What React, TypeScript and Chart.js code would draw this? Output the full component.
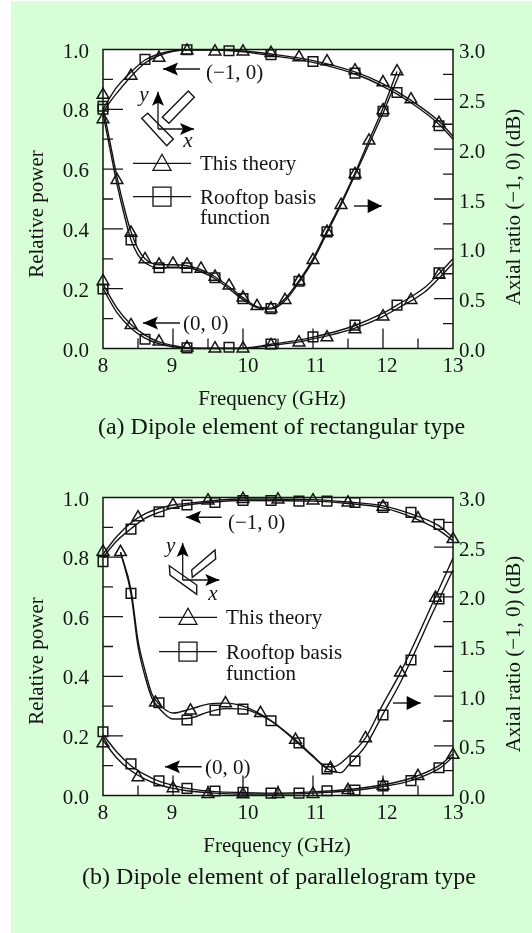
import React, { useEffect, useRef } from "react";
import { Chart, registerables } from "chart.js";

Chart.register(...registerables);

const FONT = '"Liberation Serif", "Times New Roman", serif';
const GREEN = "#d7fed7";
const INK = "#141414";

type P = [number, number];
const pts = (a: P[]) => a.map(([x, y]) => ({ x, y }));

// ---------- Panel (a): rectangular dipole ----------
const aMainLineUpper: P[] = [[8,.80],[8.1,.84],[8.2,.875],[8.4,.925],[8.6,.965],[8.8,.985],[9.2,.999],[9.6,.999],[10,.995],[10.4,.985],[11,.963],[11.6,.925],[12,.885],[12.4,.83],[12.8,.76],[13,.71]];
const aMainLineLower: P[] = [[8,.79],[8.1,.825],[8.2,.855],[8.4,.91],[8.6,.955],[8.8,.98],[9.2,.998],[9.6,.998],[10,.992],[10.4,.98],[11,.957],[11.6,.918],[12,.877],[12.4,.822],[12.8,.75],[13,.70]];
const aMainTriangles: P[] = [[8,.848],[8.4,.912],[8.8,.972],[9.2,.996],[9.6,.993],[10,.993],[10.4,.988],[10.8,.974],[11.2,.96],[11.6,.93],[12,.89],[12.4,.833],[12.8,.754]];
const aMainSquares: P[] = [[8,.81],[8.6,.967],[9.2,.999],[9.8,.996],[10.4,.983],[11,.96],[11.6,.921],[12.2,.856],[12.8,.745]];

const aRatioLineUpper: P[] = [[8,2.42],[8.1,2.07],[8.2,1.72],[8.3,1.42],[8.4,1.17],[8.5,1.0],[8.6,.9],[8.8,.84],[9,.84],[9.2,.83],[9.4,.79],[9.6,.72],[9.8,.62],[10,.51],[10.2,.42],[10.4,.405],[10.6,.5],[10.8,.68],[11,.9],[11.2,1.18],[11.4,1.46],[11.6,1.76],[11.8,2.09],[12,2.41],[12.2,2.78]];
const aRatioLineLower: P[] = [[8,2.36],[8.1,2.0],[8.2,1.65],[8.3,1.35],[8.4,1.09],[8.5,.94],[8.6,.86],[8.8,.81],[9,.81],[9.2,.81],[9.4,.77],[9.6,.7],[9.8,.6],[10,.49],[10.2,.41],[10.4,.395],[10.6,.48],[10.8,.665],[11,.88],[11.2,1.16],[11.4,1.44],[11.6,1.74],[11.8,2.05],[12,2.36],[12.1,2.53],[12.25,2.78]];
const aRatioTriangles: P[] = [[8,2.3],[8.2,1.69],[8.4,1.16],[8.6,.895],[8.8,.84],[9,.85],[9.2,.84],[9.4,.8],[9.6,.72],[9.8,.63],[10,.51],[10.2,.425],[10.4,.4],[10.6,.486],[10.8,.676],[11,.887],[11.2,1.17],[11.4,1.44],[11.6,1.75],[11.8,2.085],[12,2.39],[12.2,2.78]];
const aRatioSquares: P[] = [[8,2.4],[8.4,1.09],[8.8,.81],[9.2,.81],[9.6,.71],[10,.5],[10.4,.4],[10.8,.675],[11.2,1.17],[11.6,1.75],[12,2.38]];

const aZeroLineUpper: P[] = [[8,.215],[8.2,.135],[8.4,.08],[8.6,.045],[8.8,.022],[9,.01],[9.2,.003],[9.6,.001],[10,.002],[10.4,.014],[10.8,.028],[11,.038],[11.4,.062],[11.6,.077],[12,.118],[12.2,.145],[12.6,.205],[12.8,.25],[13,.30]];
const aZeroLineLower: P[] = [[8,.2],[8.2,.12],[8.4,.068],[8.6,.035],[8.8,.016],[9,.006],[9.2,.001],[9.6,0],[10,0],[10.4,.01],[10.8,.022],[11,.032],[11.4,.054],[11.6,.068],[12,.107],[12.2,.133],[12.6,.19],[12.8,.235],[13,.285]];
const aZeroTriangles: P[] = [[8,.225],[8.4,.078],[8.8,.023],[9.2,.003],[9.6,0],[10,0],[10.4,.011],[10.8,.02],[11.2,.037],[11.6,.064],[12,.107],[12.4,.162],[12.8,.246]];
const aZeroSquares: P[] = [[8,.199],[8.6,.031],[9.2,.002],[9.8,.004],[10.4,.015],[11,.039],[11.6,.078],[12.2,.145],[12.8,.253]];

// ---------- Panel (b): parallelogram dipole ----------
const bMainLineUpper: P[] = [[8,.81],[8.2,.87],[8.4,.915],[8.6,.945],[8.8,.963],[9,.975],[9.2,.98],[9.6,.99],[10,.995],[11,.993],[11.5,.985],[12,.972],[12.4,.945],[12.8,.905],[13,.865]];
const bMainLineLower: P[] = [[8,.8],[8.2,.855],[8.4,.895],[8.6,.93],[8.8,.95],[9,.965],[9.2,.975],[9.6,.985],[10,.99],[11,.988],[11.5,.98],[12,.965],[12.4,.935],[12.8,.89],[13,.855]];
const bMainTriangles: P[] = [[8,.818],[8.5,.933],[9,.975],[9.5,.99],[10,.995],[10.5,.993],[11,.99],[11.5,.983],[12,.969],[12.5,.93],[13,.86]];
const bMainSquares: P[] = [[8,.785],[8.4,.894],[8.8,.952],[9.2,.975],[9.6,.983],[10,.99],[10.4,.99],[10.8,.988],[11.2,.988],[11.6,.983],[12,.967],[12.4,.95],[12.8,.91]];

const bRatioLineUpper: P[] = [[8.25,2.45],[8.4,2.07],[8.5,1.56],[8.6,1.26],[8.7,1.02],[8.8,.92],[9,.83],[9.25,.87],[9.5,.92],[9.75,.93],[10,.9],[10.25,.82],[10.4,.755],[10.75,.56],[11,.4],[11.2,.29],[11.3,.29],[11.5,.39],[11.75,.58],[12,.92],[12.25,1.24],[12.75,2.0],[13,2.39]];
const bRatioLineLower: P[] = [[8.25,2.45],[8.4,2.03],[8.5,1.5],[8.6,1.2],[8.7,.98],[8.8,.88],[9,.77],[9.25,.78],[9.5,.84],[9.75,.875],[10,.87],[10.25,.81],[10.4,.75],[10.75,.55],[11,.39],[11.2,.27],[11.4,.23],[11.5,.3],[11.75,.5],[12,.82],[12.25,1.14],[12.75,1.9],[13,2.27]];
const bRatioTriangles: P[] = [[8.25,2.45],[8.75,.934],[9.25,.854],[9.75,.928],[10.25,.83],[10.75,.56],[11.25,.274],[11.75,.576],[12.25,1.236],[12.75,1.99]];
const bRatioSquares: P[] = [[8.4,2.035],[8.8,.934],[9.2,.76],[9.6,.86],[10,.87],[10.4,.753],[10.8,.53],[11.2,.267],[11.6,.347],[12,.81],[12.4,1.364],[12.8,1.98]];

const bZeroLineUpper: P[] = [[8,.205],[8.2,.145],[8.4,.1],[8.6,.07],[8.8,.048],[9,.034],[9.2,.024],[9.6,.013],[10,.01],[10.5,.008],[11,.012],[11.5,.02],[12,.036],[12.4,.058],[12.8,.1],[13,.14]];
const bZeroLineLower: P[] = [[8,.185],[8.2,.125],[8.4,.083],[8.6,.055],[8.8,.036],[9,.024],[9.2,.016],[9.6,.008],[10,.005],[10.5,.005],[11,.008],[11.5,.015],[12,.03],[12.4,.05],[12.8,.09],[13,.13]];
const bZeroTriangles: P[] = [[8,.175],[8.5,.061],[9,.024],[9.5,.005],[10,.004],[10.5,.005],[11,.005],[11.5,.018],[12,.032],[12.5,.065],[13,.136]];
const bZeroSquares: P[] = [[8,.214],[8.4,.106],[8.8,.049],[9.2,.024],[9.6,.015],[10,.011],[10.4,.008],[10.8,.008],[11.2,.016],[11.6,.018],[12,.032],[12.4,.05],[12.8,.093]];

const xTickValues = [8, 9, 10, 11, 12, 13];
const xTickNudge = [0, -1, 5, 3, 4, 0];
const xMinor = [8.5, 9.5, 10.5, 11.5, 12.5];
const xMajor = [9, 10, 11, 12];
const leftMinor = [.1, .3, .5, .7, .9];
const leftMajor = [.2, .4, .6, .8];
const rightMinor = [.25, .75, 1.25, 1.75, 2.25, 2.75];
const rightMajor = [.5, 1, 1.5, 2, 2.5];

const xTitle = "Frequency (GHz)";
const leftTitle = "Relative power";
const rightTitle = "Axial ratio (\u22121, 0) (dB)";
const legendTheory = "This theory";
const legendRooftop = ["Rooftop basis", "function"];
const labelMain = "(\u22121, 0)";
const labelZero = "(0, 0)";

const lineDs = (data: P[], yAxisID: string) => ({
  type: "line" as const, data: pts(data), yAxisID, borderColor: INK, borderWidth: 1.4,
  pointRadius: 0, tension: 0.4, cubicInterpolationMode: "monotone" as const, fill: false, clip: 2,
});
const markDs = (data: P[], yAxisID: string, style: "triangle" | "rect") => ({
  type: "line" as const, data: pts(data), yAxisID, showLine: false, pointStyle: style,
  pointRadius: 6.8, pointBorderColor: INK, pointBorderWidth: 1.5,
  pointBackgroundColor: "rgba(0,0,0,0)", clip: false as const,
});

type Layout = {
  top: number; bottom: number; height: number; leftTitleY: number; rightTitleY: number;
  freqX: number; freqY: number; captionX: number; captionY: number; caption: string;
  mainLabel: [number, number]; mainArrow: [number, number, number];
  zeroLabel: [number, number]; zeroArrow: [number, number, number];
  ratioArrow: [number, number, number];
  origin: [number, number]; yTip: number; xTip: number; yText: [number, number]; xText: [number, number];
  shapes: P[][];
  legendLine: [number, number]; legendText: number; rowTheory: number; rowRoof: number; rowRoof2: number;
};

function arrow(c: CanvasRenderingContext2D, x1: number, x2: number, y: number, headAt: "left" | "right") {
  c.strokeStyle = INK; c.fillStyle = "#000"; c.lineWidth = 1.4;
  c.beginPath(); c.moveTo(x1, y); c.lineTo(x2, y); c.stroke();
  c.beginPath();
  if (headAt === "left") { c.moveTo(x1, y); c.lineTo(x1 + 15, y - 6.5); c.lineTo(x1 + 12, y); c.lineTo(x1 + 15, y + 6.5); }
  else { c.moveTo(x2, y); c.lineTo(x2 - 14, y - 7); c.lineTo(x2 - 14, y + 7); }
  c.closePath(); c.fill();
}

const makePlugin = (L: Layout) => ({
  id: "figure",
  beforeDatasetsDraw(chart: any) {
    const c: CanvasRenderingContext2D = chart.ctx;
    const { left, right, top, bottom } = chart.chartArea;
    c.save();
    c.fillStyle = "#fff"; c.fillRect(left, top, right - left, bottom - top);
    c.strokeStyle = INK; c.lineWidth = 1.3;
    const { x, y, y1 } = chart.scales;
    c.beginPath();
    xMajor.forEach((v) => { const p = x.getPixelForValue(v); c.moveTo(p, bottom); c.lineTo(p, bottom - 20); });
    xMinor.forEach((v) => { const p = x.getPixelForValue(v); c.moveTo(p, bottom); c.lineTo(p, bottom - 10); });
    leftMajor.forEach((v) => { const p = y.getPixelForValue(v); c.moveTo(left, p); c.lineTo(left + 20, p); });
    leftMinor.forEach((v) => { const p = y.getPixelForValue(v); c.moveTo(left, p); c.lineTo(left + 10, p); });
    rightMajor.forEach((v) => { const p = y1.getPixelForValue(v); c.moveTo(right, p); c.lineTo(right - 19, p); });
    rightMinor.forEach((v) => { const p = y1.getPixelForValue(v); c.moveTo(right, p); c.lineTo(right - 10, p); });
    c.stroke();
    c.restore();
  },
  afterDraw(chart: any) {
    const c: CanvasRenderingContext2D = chart.ctx;
    const { left, right, top, bottom } = chart.chartArea;
    c.save();
    c.strokeStyle = INK; c.lineWidth = 1.5;
    c.strokeRect(left, top, right - left, bottom - top);

    // x tick labels
    c.fillStyle = INK; c.textBaseline = "middle"; c.textAlign = "center";
    c.font = `21px ${FONT}`;
    xTickValues.forEach((v, i) => c.fillText(String(v), chart.scales.x.getPixelForValue(v) + xTickNudge[i], bottom + 18));

    // titles
    c.fillText(xTitle, L.freqX, L.freqY);
    c.save(); c.translate(37, L.leftTitleY); c.rotate(-Math.PI / 2); c.fillText(leftTitle, 0, 0); c.restore();
    c.save(); c.translate(514, L.rightTitleY); c.rotate(-Math.PI / 2); c.fillText(rightTitle, 0, 0); c.restore();
    c.font = `24px ${FONT}`;
    c.fillText(L.caption, L.captionX, L.captionY);

    // annotations
    c.font = `21px ${FONT}`; c.textAlign = "left";
    c.fillText(labelMain, L.mainLabel[0], L.mainLabel[1]);
    c.fillText(labelZero, L.zeroLabel[0], L.zeroLabel[1]);
    arrow(c, L.mainArrow[0], L.mainArrow[1], L.mainArrow[2], "left");
    arrow(c, L.zeroArrow[0], L.zeroArrow[1], L.zeroArrow[2], "left");
    arrow(c, L.ratioArrow[0], L.ratioArrow[1], L.ratioArrow[2], "right");

    // element sketch
    const [ox, oy] = L.origin;
    c.strokeStyle = INK; c.fillStyle = "#000"; c.lineWidth = 1.3;
    c.beginPath(); c.moveTo(ox, oy); c.lineTo(ox, L.yTip); c.moveTo(ox, oy); c.lineTo(L.xTip, oy); c.stroke();
    c.beginPath(); c.moveTo(ox, L.yTip); c.lineTo(ox - 6, L.yTip + 14); c.lineTo(ox, L.yTip + 11); c.lineTo(ox + 6, L.yTip + 14); c.closePath(); c.fill();
    c.beginPath(); c.moveTo(L.xTip, oy); c.lineTo(L.xTip - 14, oy - 6); c.lineTo(L.xTip - 11, oy); c.lineTo(L.xTip - 14, oy + 6); c.closePath(); c.fill();
    c.lineWidth = 1.4;
    L.shapes.forEach((s) => {
      c.beginPath(); s.forEach(([a, b], i) => (i ? c.lineTo(a, b) : c.moveTo(a, b))); c.closePath(); c.stroke();
    });
    c.font = `italic 21px ${FONT}`; c.textAlign = "center"; c.fillStyle = INK;
    c.fillText("y", L.yText[0], L.yText[1]);
    c.fillText("x", L.xText[0], L.xText[1]);

    // legend
    const [lx1, lx2] = L.legendLine; const mid = (lx1 + lx2) / 2;
    c.strokeStyle = INK; c.lineWidth = 1.3;
    c.beginPath();
    c.moveTo(lx1, L.rowTheory); c.lineTo(lx2, L.rowTheory);
    c.moveTo(lx1, L.rowRoof); c.lineTo(lx2, L.rowRoof);
    c.moveTo(mid, L.rowTheory - 9); c.lineTo(mid - 9, L.rowTheory + 7); c.lineTo(mid + 9, L.rowTheory + 7); c.closePath();
    c.rect(mid - 9, L.rowRoof - 9.5, 18, 19);
    c.stroke();
    c.font = `21px ${FONT}`; c.textAlign = "left"; c.fillStyle = INK;
    c.fillText(legendTheory, L.legendText, L.rowTheory + 1);
    c.fillText(legendRooftop[0], L.legendText, L.rowRoof + 2);
    c.fillText(legendRooftop[1], L.legendText, L.rowRoof2 + 0.5);
    c.restore();
  },
});

function build(canvas: HTMLCanvasElement, L: Layout, sets: P[][]) {
  const [mu, ml, mt, ms, ru, rl, rt, rs, zu, zl, zt, zs] = sets;
  return new Chart(canvas, {
    type: "line",
    data: {
      datasets: [
        lineDs(mu, "y"), lineDs(ml, "y"), lineDs(zu, "y"), lineDs(zl, "y"), lineDs(ru, "y1"), lineDs(rl, "y1"),
        markDs(mt, "y", "triangle"), markDs(ms, "y", "rect"), markDs(zt, "y", "triangle"), markDs(zs, "y", "rect"),
        markDs(rt, "y1", "triangle"), markDs(rs, "y1", "rect"),
      ] as any,
    },
    options: {
      animation: false, responsive: false, events: [],
      layout: { padding: { top: L.top, bottom: 0, left: 0, right: 0 } },
      plugins: { legend: { display: false }, tooltip: { enabled: false } },
      scales: {
        x: {
          type: "linear", min: 8, max: 13,
          grid: { display: false }, border: { display: false },
          ticks: { display: false },
          afterFit: (s: any) => { s.height = L.height - L.bottom; },
        },
        y: {
          type: "linear", position: "left", min: 0, max: 1,
          grid: { display: false, drawTicks: false }, border: { display: false },
          ticks: { stepSize: 0.2, padding: 14, labelOffset: 2.5, color: INK, font: { family: FONT, size: 21 }, callback: (v: any) => Number(v).toFixed(1) },
          afterFit: (s: any) => { s.width = 103; },
        },
        y1: {
          type: "linear", position: "right", min: 0, max: 3,
          grid: { display: false, drawTicks: false }, border: { display: false },
          ticks: { stepSize: 0.5, padding: 6, labelOffset: 3, color: INK, font: { family: FONT, size: 21 }, callback: (v: any) => Number(v).toFixed(1) },
          afterFit: (s: any) => { s.width = 79; },
        },
      },
    } as any,
    plugins: [makePlugin(L)],
  });
}

const layoutA: Layout = {
  top: 49.5, bottom: 348.5, height: 466, leftTitleY: 214, rightTitleY: 207,
  freqX: 272, freqY: 399, captionX: 281.5, captionY: 428, caption: "(a) Dipole element of rectangular type",
  mainLabel: [206, 73], mainArrow: [163, 200, 69], zeroLabel: [183, 324], zeroArrow: [143, 180, 323], ratioArrow: [354, 381.7, 206],
  origin: [158, 129], yTip: 91.7, xTip: 194, yText: [144, 95], xText: [188, 141],
  shapes: [
    [[188.3,91],[194.3,97.3],[169,123.3],[162.3,117.3]],
    [[147.7,113.3],[141.7,118.3],[166.7,145.7],[173.3,139]],
  ],
  legendLine: [133, 191], legendText: 200, rowTheory: 163.3, rowRoof: 196.7, rowRoof2: 218,
};

const O = 466; // panel (b) canvas offset
const layoutB: Layout = {
  top: 497.5 - O, bottom: 795.5 - O, height: 467, leftTitleY: 661 - O, rightTitleY: 654 - O,
  freqX: 277, freqY: 846 - O, captionX: 279, captionY: 878 - O, caption: "(b) Dipole element of parallelogram type",
  mainLabel: [228, 523 - O], mainArrow: [186, 221.7, 517.3 - O], zeroLabel: [205, 768 - O], zeroArrow: [165, 201.7, 766.7 - O], ratioArrow: [393, 420.7, 703 - O],
  origin: [182.7, 580 - O], yTip: 543 - O, xTip: 219.3, yText: [170.7, 546 - O], xText: [213, 594 - O],
  shapes: [
    [[191.7,570 - O],[215,550 - O],[215.7,559 - O],[192.3,577.3 - O]],
    [[169.3,565.7 - O],[196.7,585 - O],[196.7,594.3 - O],[170,575 - O]],
  ],
  legendLine: [159, 217], legendText: 226, rowTheory: 617.3 - O, rowRoof: 651.7 - O, rowRoof2: 674 - O,
};

export default function App() {
  const refA = useRef<HTMLCanvasElement>(null);
  const refB = useRef<HTMLCanvasElement>(null);
  useEffect(() => {
    document.body.style.margin = "0";
    document.body.style.background = "#fff";
    const a = build(refA.current!, layoutA, [aMainLineUpper, aMainLineLower, aMainTriangles, aMainSquares, aRatioLineUpper, aRatioLineLower, aRatioTriangles, aRatioSquares, aZeroLineUpper, aZeroLineLower, aZeroTriangles, aZeroSquares]);
    const b = build(refB.current!, layoutB, [bMainLineUpper, bMainLineLower, bMainTriangles, bMainSquares, bRatioLineUpper, bRatioLineLower, bRatioTriangles, bRatioSquares, bZeroLineUpper, bZeroLineLower, bZeroTriangles, bZeroSquares]);
    return () => { a.destroy(); b.destroy(); };
  }, []);
  return (
    <div style={{ position: "relative", width: 532, height: 933, overflow: "hidden" }}>
      <div style={{ position: "absolute", left: 11, top: 1, width: 521, height: 932, background: GREEN }} />
      <canvas ref={refA} width={532} height={466} style={{ position: "absolute", left: 0, top: 0, display: "block" }} />
      <canvas ref={refB} width={532} height={467} style={{ position: "absolute", left: 0, top: O, display: "block" }} />
    </div>
  );
}
